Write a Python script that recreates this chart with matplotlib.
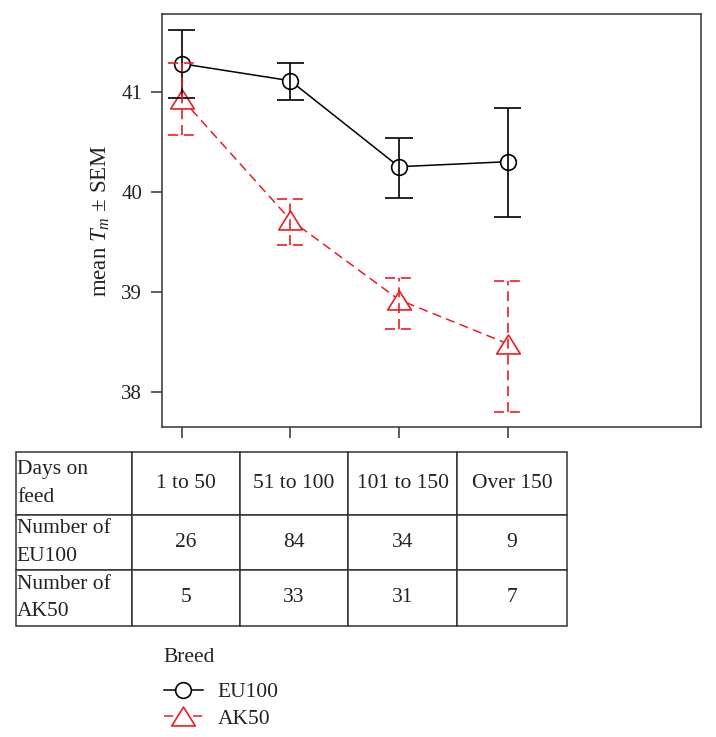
import matplotlib
matplotlib.use('Agg')
import matplotlib.pyplot as plt
from matplotlib.path import Path

# ---- data ----
categories = ['1 to 50', '51 to 100', '101 to 150', 'Over 150']
x_pos = [1, 2, 3, 4]
eu100_mean = [41.28, 41.11, 40.25, 40.30]
eu100_upper = [41.62, 41.29, 40.54, 40.84]
eu100_lower = [40.94, 40.92, 39.94, 39.75]
ak50_mean = [40.93, 39.72, 38.92, 38.48]
ak50_upper = [41.29, 39.93, 39.14, 39.11]
ak50_lower = [40.57, 39.47, 38.63, 37.80]
eu100_counts = [26, 84, 34, 9]
ak50_counts = [5, 33, 31, 7]
row_labels = ['Days on\nfeed', 'Number of\nEU100', 'Number of\nAK50']
y_ticks = [38, 39, 40, 41]

plt.rcParams['font.family'] = ['Liberation Serif', 'DejaVu Serif']
plt.rcParams['mathtext.fontset'] = 'custom'
plt.rcParams['mathtext.rm'] = 'Liberation Serif'
plt.rcParams['mathtext.it'] = 'Liberation Serif:italic'

RED = '#ee1c24'
GREY = '#333333'
TXT = '#222222'

fig = plt.figure(figsize=(7.16, 7.37), dpi=100)
ax = fig.add_axes([0.2258, 0.4210, 0.7532, 0.5600])

tri = Path([(-1, -0.8), (1, -0.8), (0, 0.8), (-1, -0.8)],
           [Path.MOVETO, Path.LINETO, Path.LINETO, Path.CLOSEPOLY])

l1, = ax.plot(x_pos, eu100_mean, '-', color='black', lw=1.1, marker='o',
              ms=11.3, mfc='white', mec='black', mew=1.2, zorder=3, label='EU100')
l2, = ax.plot(x_pos, ak50_mean, color=RED, lw=1.1, ls=(0, (6, 3.5)), marker=tri,
              ms=17, mfc='white', mec=RED, mew=1.2, zorder=3, label='AK50')

cap = 0.125
ax.vlines(x_pos, eu100_lower, eu100_upper, color='black', lw=1.2, zorder=4)
ax.hlines(eu100_upper, [x - cap for x in x_pos], [x + cap for x in x_pos],
          color='black', lw=1.2, zorder=4)
ax.hlines(eu100_lower, [x - cap for x in x_pos], [x + cap for x in x_pos],
          color='black', lw=1.2, zorder=4)
ax.vlines(x_pos, ak50_lower, ak50_upper, color=RED, lw=1.2, zorder=4,
          linestyles=[(0, (6, 3.5))])
ax.hlines(ak50_upper, [x - cap for x in x_pos], [x + cap for x in x_pos],
          color=RED, lw=1.2, zorder=4, linestyles=[(0, (6, 3.5))])
ax.hlines(ak50_lower, [x - cap for x in x_pos], [x + cap for x in x_pos],
          color=RED, lw=1.2, zorder=4, linestyles=[(0, (6, 3.5))])

ax.set_xlim(0.816, 5.78)
ax.set_ylim(37.65, 41.777)
ax.set_yticks(y_ticks)
ax.set_yticklabels([str(t) for t in y_ticks], fontsize=15, color=TXT)
ax.set_xticks(x_pos)
ax.set_xticklabels([])
ax.tick_params(axis='both', direction='out', length=8, width=1.1, color=GREY, pad=6)
for s in ax.spines.values():
    s.set_color(GREY)
    s.set_linewidth(1.1)
ax.set_ylabel('mean $T_m$ ± SEM', fontsize=16.5, labelpad=7, color=TXT)

# ---- table ----
tax = fig.add_axes([0.0219, 0.151, 0.7696, 0.2353])
tax.axis('off')
cell_text = [
    [row_labels[0]] + categories,
    [row_labels[1]] + [str(v) for v in eu100_counts],
    [row_labels[2]] + [str(v) for v in ak50_counts],
]
tab = tax.table(cellText=cell_text, cellLoc='center', bbox=[0, 0, 1, 1])
tab.auto_set_font_size(False)
tab.set_fontsize(15.5)
col_w = [116.6, 107.7, 108.0, 109.3, 109.4]
row_h = [62.7, 55.0, 55.7]
for (r, c), cell in tab.get_celld().items():
    cell.set_width(col_w[c])
    cell.set_height(row_h[r])
    cell.set_edgecolor(GREY)
    cell.set_linewidth(1.1)
    t = cell.get_text()
    t.set_color(TXT)
    t.set_linespacing(1.6)
    if c == 0:
        cell._loc = 'left'
        cell.PAD = 0.01
        t.set_horizontalalignment('left')

# ---- legend ----
fig.text(163 / 716, 1 - 657 / 737, 'Breed', fontsize=15.5, color=TXT,
         ha='left', va='center')
leg = fig.legend(handles=[l1, l2], loc='upper left',
                 bbox_to_anchor=(164 / 716, 1 - 682 / 737), frameon=False, fontsize=15.5,
                 handlelength=1.8, handletextpad=0.7,
                 labelspacing=0.3, borderaxespad=0, borderpad=0)
for t in leg.get_texts():
    t.set_color(TXT)

fig.savefig('out.png', dpi=100)
